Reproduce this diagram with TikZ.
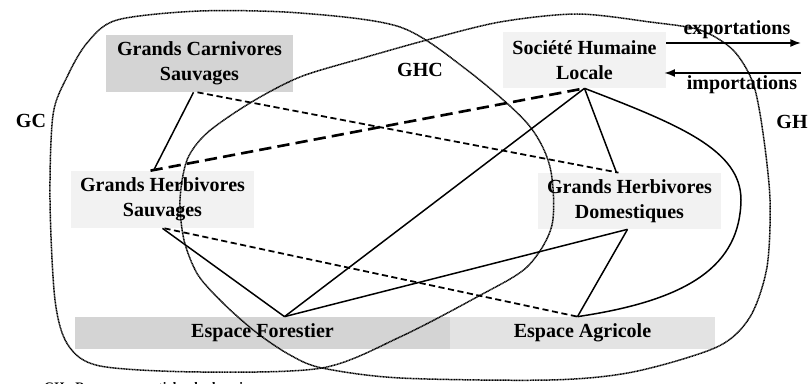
\documentclass[tikz,border=0pt]{standalone}
\usepackage{fontspec}
\setmainfont{Liberation Serif}
\usetikzlibrary{arrows.meta, calc}

\definecolor{grisfonce}{gray}{0.83}
\definecolor{grismoyen}{gray}{0.89}
\definecolor{grisclair}{gray}{0.95}

\tikzset{
	boite/.style={fill=#1, align=center, inner sep=0pt},
	lien/.style={line width=0.85pt},
	lienpt/.style={line width=1pt, dash pattern=on 3.5pt off 2pt},
	liengros/.style={line width=1.5pt, dash pattern=on 7pt off 3.5pt},
	zone/.style={line width=0.85pt, dash pattern=on 0.6pt off 0.3pt},
	fleche/.style={line width=0.9pt, -{Latex[length=6pt, width=4.5pt]}}
}

\begin{document}
\begin{tikzpicture}[x=0.02cm, y=-0.02cm, font=\fontsize{11.4}{14.2}\selectfont\bfseries]
		\useasboundingbox (0,0) rectangle (809,384);

		% Boites
		\node[boite=grisfonce, minimum width=3.74cm, minimum height=1.14cm] (gcs) at (199.5,63.5) {Grands Carnivores\\Sauvages};
		\node[boite=grisclair, minimum width=3.26cm, minimum height=1.12cm] (shl) at (584.5,60) {Société Humaine\\Locale};
		\node[boite=grisclair, minimum width=3.66cm, minimum height=1.14cm] (ghs) at (162.5,199.5) {Grands Herbivores\\Sauvages};
		\node[boite=grisclair, minimum width=3.66cm, minimum height=1.12cm] (ghd) at (629.5,201) {Grands Herbivores\\Domestiques};
		\node[boite=grisfonce, minimum width=7.5cm, minimum height=0.64cm] (ef) at (262.5,333) {Espace Forestier};
		\node[boite=grismoyen, minimum width=5.3cm, minimum height=0.64cm] (ea) at (582.5,333) {Espace Agricole};

		% Zones
		\draw[zone] plot[smooth cycle] coordinates {(117,20) (200,11) (300,13) (400,27) (467,70) (527,123) (550,167) (552,225) (527,267) (477,297) (400,337) (322,368) (200,372) (100,366) (68,345) (55,300) (50,200) (53,115) (67,77) (87,43)};
		\draw[zone] plot[smooth cycle] coordinates {(577,14) (650,22) (700,30) (733,50) (753,83) (763,133) (770,200) (767,267) (750,317) (717,347) (633,372) (550,380) (400,378) (322,368) (290,355) (257,333) (225,305) (198,275) (184,240) (180,200) (187,160) (207,133) (250,103) (300,77) (363,58) (427,40) (500,22)};

		\node (gc) at (31,121) {GC};
		\node (ghc) at (420,70) {GHC};
		\node (gh) at (792,122) {GH};

		% Liens
		\draw[lien] ($(gcs.south)+(-6,0)$) -- ($(ghs.north)+(-9,0)$);
		\draw[lienpt] ($(gcs.south)+(-2,0)$) -- ($(ghd.north)+(-11,0)$);
		\draw[liengros] ($(ghs.north)+(-12,0)$) -- (shl.south);
		\draw[lien] (shl.south) -- ($(ghd.north)+(-13,0)$);
		\draw[lien] (shl.south) -- ($(ef.north)+(22,0)$);
		\draw[lien] (shl.south) .. controls (680,125) and (741,150) .. (741,200)
			.. controls (740,265) and (690,300) .. ($(ea.north)+(-5,0)$);
		\draw[lien] (ghs.south) -- ($(ef.north)+(22,0)$);
		\draw[lienpt] ($(ghs.south)+(2,0)$) -- ($(ea.north)+(-5,0)$);
		\draw[lien] ($(ghd.south)+(-2,0)$) -- ($(ef.north)+(22,0)$);
		\draw[lien] ($(ghd.south)+(-2,0)$) -- ($(ea.north)+(-5,0)$);

		% Echanges
		\coordinate (exp) at (801,43);
		\coordinate (imp) at (801,73);
		\draw[fleche] ($(shl.east)+(0,-17)$) -- (exp);
		\draw[fleche] (imp) -- ($(shl.east)+(-2,13)$);
		\node (lexp) at (737,30) {exportations};
		\node (limp) at (742,85) {importations};

		% Legende
		\node[anchor=west, font=\fontsize{7.4}{9}\selectfont\bfseries] (leg) at (38,388) {GH : Ressources spatiales du domaine};
	\end{tikzpicture}
\end{document}
